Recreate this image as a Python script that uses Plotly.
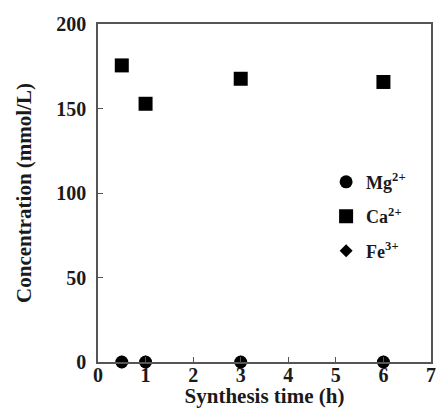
import plotly.graph_objects as go

# Synthesis time (h) and ion concentrations (mmol/L)
time_h = [0.5, 1, 3, 6]
mg_conc = [0, 0, 0, 0]
ca_conc = [175.5, 152.8, 167.6, 165.7]
fe_conc = [0, 0, 0, 0]

x_ticks = [0, 1, 2, 3, 4, 5, 6, 7]
y_ticks = [0, 50, 100, 150, 200]

FONT = "Liberation Serif"
AXIS_COLOR = "#555555"
TEXT_COLOR = "#1a1a1a"

fig = go.Figure()

# Fe drawn first so the circles sit on top of it at zero
fig.add_trace(go.Scatter(
    x=time_h, y=fe_conc, mode="markers", name="<b>Fe<sup>3+</sup></b>",
    marker=dict(symbol="diamond", size=10, color="black"),
    legendgroup="fe", legendrank=3, cliponaxis=False,
))
fig.add_trace(go.Scatter(
    x=time_h, y=ca_conc, mode="markers", name="<b>Ca<sup>2+</sup></b>",
    marker=dict(symbol="square", size=14, color="black"),
    legendgroup="ca", legendrank=2, cliponaxis=False,
))
fig.add_trace(go.Scatter(
    x=time_h, y=mg_conc, mode="markers", name="<b>Mg<sup>2+</sup></b>",
    marker=dict(symbol="circle", size=13, color="black"),
    legendgroup="mg", legendrank=1, cliponaxis=False,
))

fig.update_layout(
    width=442, height=408,
    margin=dict(l=98, r=6, t=24, b=46),
    paper_bgcolor="white", plot_bgcolor="white",
    font=dict(family=FONT, color="black"),
    showlegend=True,
    legend=dict(
        x=0.685, y=0.43, xanchor="left", yanchor="middle",
        bgcolor="rgba(0,0,0,0)", tracegroupgap=8,
        font=dict(family=FONT, size=18, color=TEXT_COLOR),
        itemwidth=30,
    ),
    xaxis=dict(
        range=[0, 7], tickvals=x_ticks, ticktext=[f"<b>{v}</b>" for v in x_ticks],
        showline=True, mirror=True, linecolor=AXIS_COLOR, linewidth=1.5,
        ticks="inside", ticklen=5, tickwidth=1.2, tickcolor=AXIS_COLOR,
        showgrid=False, zeroline=False,
        tickfont=dict(family=FONT, size=20, color=TEXT_COLOR),
        ticklabelstandoff=-6,
        title=dict(text="<b>Synthesis time (h)</b>", standoff=0,
                   font=dict(family=FONT, size=21, color=TEXT_COLOR)),
    ),
    yaxis=dict(
        range=[0, 200], tickvals=y_ticks, ticktext=[f"<b>{v}</b>" for v in y_ticks],
        showline=True, mirror=True, linecolor=AXIS_COLOR, linewidth=1.5,
        ticks="inside", ticklen=5, tickwidth=1.2, tickcolor=AXIS_COLOR,
        showgrid=False, zeroline=False,
        tickfont=dict(family=FONT, size=20, color=TEXT_COLOR),
        ticklabelstandoff=6,
        title=dict(text="<b>Concentration (mmol/L)</b>", standoff=19,
                   font=dict(family=FONT, size=21, color=TEXT_COLOR)),
    ),
)

fig.write_html("out.html")
